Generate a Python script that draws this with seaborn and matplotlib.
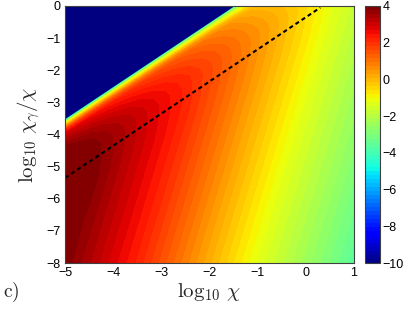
import numpy as np
import matplotlib
matplotlib.use("Agg")
import matplotlib.pyplot as plt
import seaborn as sns

# ── data ─────────────────────────────────────────────────────────────────────
# edge of the saturated region (values <= -10 above it)
CUT_X = [-5.0, -1.5]
CUT_Y = [-3.5, 0.0]

# grid columns: log10 chi
X_LOG_CHI = [-5.0, -4.5, -4.0, -3.5, -3.0, -2.5, -2.0, -1.5, -1.0, -0.5, 0.0, 0.5, 1.0]
# grid rows: vertical depth (in log10 chi_gamma/chi) below that edge
DEPTH = [0.0, 0.05, 0.15, 0.25, 0.36, 0.5, 0.75, 1.0, 1.25, 1.5, 2.0,
         2.5, 3.5, 4.5, 5.5, 6.5, 7.5, 8.5, 9.5, 10.5]

FIELD = [
    [-6.5] * 13,
    [-4.71, -4.56, -4.39, -4.24, -4.09, -3.94, -3.77, -3.71, -4.27, -4.83, -5.39, -5.95, -6.51],
    [-1.23, -1.30, -1.37, -1.44, -1.51, -1.58, -1.65, -1.81, -2.37, -2.93, -3.49, -4.05, -4.61],
    [0.54, 0.36, 0.18, -0.01, -0.20, -0.39, -0.57, -0.85, -1.41, -1.97, -2.53, -3.09, -3.66],
    [2.02, 1.74, 1.45, 1.17, 0.90, 0.61, 0.32, -0.06, -0.62, -1.18, -1.74, -2.30, -2.87],
    [2.99, 2.64, 2.30, 1.95, 1.60, 1.26, 0.89, 0.45, -0.11, -0.67, -1.23, -1.79, -2.35],
    [3.58, 3.19, 2.80, 2.41, 2.03, 1.64, 1.22, 0.74, 0.18, -0.38, -0.94, -1.50, -2.05],
    [4.00, 3.60, 3.18, 2.76, 2.34, 1.92, 1.46, 0.95, 0.39, -0.17, -0.73, -1.29, -1.83],
    [4.00, 3.87, 3.42, 2.99, 2.54, 2.10, 1.60, 1.07, 0.51, -0.05, -0.61, -1.17, -1.69],
    [4.00, 3.99, 3.55, 3.09, 2.63, 2.17, 1.66, 1.11, 0.55, -0.01, -0.57, -1.13, -1.64],
    [4.00, 4.00, 3.56, 3.09, 2.62, 2.17, 1.61, 1.05, 0.49, -0.07, -0.63, -1.19, -1.67],
    [4.00, 3.95, 3.48, 3.01, 2.55, 2.06, 1.50, 0.94, 0.38, -0.18, -0.74, -1.30, -1.76],
    [4.00, 3.72, 3.25, 2.78, 2.31, 1.78, 1.22, 0.66, 0.10, -0.46, -1.02, -1.53, -1.99],
    [3.95, 3.48, 3.01, 2.55, 2.06, 1.50, 0.94, 0.38, -0.18, -0.74, -1.30, -1.76, -2.22],
    [3.72, 3.25, 2.78, 2.31, 1.78, 1.22, 0.66, 0.10, -0.46, -1.02, -1.53, -1.99, -2.45],
    [3.48, 3.01, 2.55, 2.06, 1.50, 0.94, 0.38, -0.18, -0.74, -1.30, -1.76, -2.22, -2.68],
    [3.25, 2.78, 2.31, 1.78, 1.22, 0.66, 0.10, -0.46, -1.02, -1.53, -1.99, -2.45, -2.91],
    [3.01, 2.55, 2.06, 1.50, 0.94, 0.38, -0.18, -0.74, -1.30, -1.76, -2.22, -2.68, -3.14],
    [2.78, 2.31, 1.78, 1.22, 0.66, 0.10, -0.46, -1.02, -1.53, -1.99, -2.45, -2.91, -3.37],
    [2.55, 2.06, 1.50, 0.94, 0.38, -0.18, -0.74, -1.30, -1.76, -2.22, -2.68, -3.14, -3.60],
]

# dashed reference line
DASH_X = [-5.0, 0.3]
DASH_Y = [-5.35, -0.05]

X_TICKS = [-5, -4, -3, -2, -1, 0, 1]
Y_TICKS = [-8, -7, -6, -5, -4, -3, -2, -1, 0]
CBAR_TICKS = [-10, -8, -6, -4, -2, 0, 2, 4]
VMIN, VMAX = -10, 4

# ── style ────────────────────────────────────────────────────────────────────
sns.set_theme(style="ticks")
plt.rcParams["font.family"] = ["Liberation Sans", "DejaVu Sans"]
plt.rcParams["mathtext.fontset"] = "cm"
AXIS_GREY = "#404040"

fig = plt.figure(figsize=(4.09, 3.11), dpi=100)
fig.patch.set_facecolor("white")
ax = fig.add_axes([65 / 409, 1 - 263 / 311, 289 / 409, 257 / 311])
cax = fig.add_axes([365 / 409, 1 - 263 / 311, 15 / 409, 257 / 311])

cmap = plt.get_cmap("jet")
norm = matplotlib.colors.Normalize(VMIN, VMAX)
levels = np.linspace(VMIN, VMAX, 65)

# grid sheared along the edge line: y = edge(x) - depth
slope = (CUT_Y[1] - CUT_Y[0]) / (CUT_X[1] - CUT_X[0])
xg = np.array(X_LOG_CHI)
edge_y = CUT_Y[0] + slope * (xg - CUT_X[0])
X = np.tile(xg, (len(DEPTH), 1))
Y = edge_y[None, :] - np.array(DEPTH)[:, None]
Z = np.array(FIELD)

cs = ax.contourf(X, Y, Z, levels=levels, cmap=cmap, norm=norm)
ax.fill_between(CUT_X, CUT_Y, 0.0, color=cmap(0.0), linewidth=0)
sns.lineplot(x=DASH_X, y=DASH_Y, ax=ax, color="black", linewidth=1.5,
             linestyle=(0, (2, 1.5)))

ax.set_xlim(-5, 1)
ax.set_ylim(-8, 0)
ax.set_xticks(X_TICKS)
ax.set_yticks(Y_TICKS)
ax.tick_params(direction="in", top=True, right=True, length=3.5, width=0.6,
               colors=AXIS_GREY, labelcolor="black", labelsize=9, pad=3)
for sp in ax.spines.values():
    sp.set_visible(True)
    sp.set_color(AXIS_GREY)
    sp.set_linewidth(0.8)

ax.set_xlabel(r"$\log_{10}\,\chi$", fontsize=15, labelpad=1)
ax.set_ylabel(r"$\log_{10}\,\chi_\gamma/\chi$", fontsize=15, labelpad=3)

cb = fig.colorbar(cs, cax=cax, ticks=CBAR_TICKS)
cb.ax.tick_params(direction="in", length=3, width=0.6, colors=AXIS_GREY,
                  labelcolor="black", labelsize=9, pad=2)
cb.outline.set_edgecolor(AXIS_GREY)
cb.outline.set_linewidth(0.8)

fig.text(3 / 409, 1 - 297 / 311, r"$\mathrm{c)}$", fontsize=14, va="baseline")

fig.savefig("out.png", dpi=100, facecolor="white")
plt.close(fig)
